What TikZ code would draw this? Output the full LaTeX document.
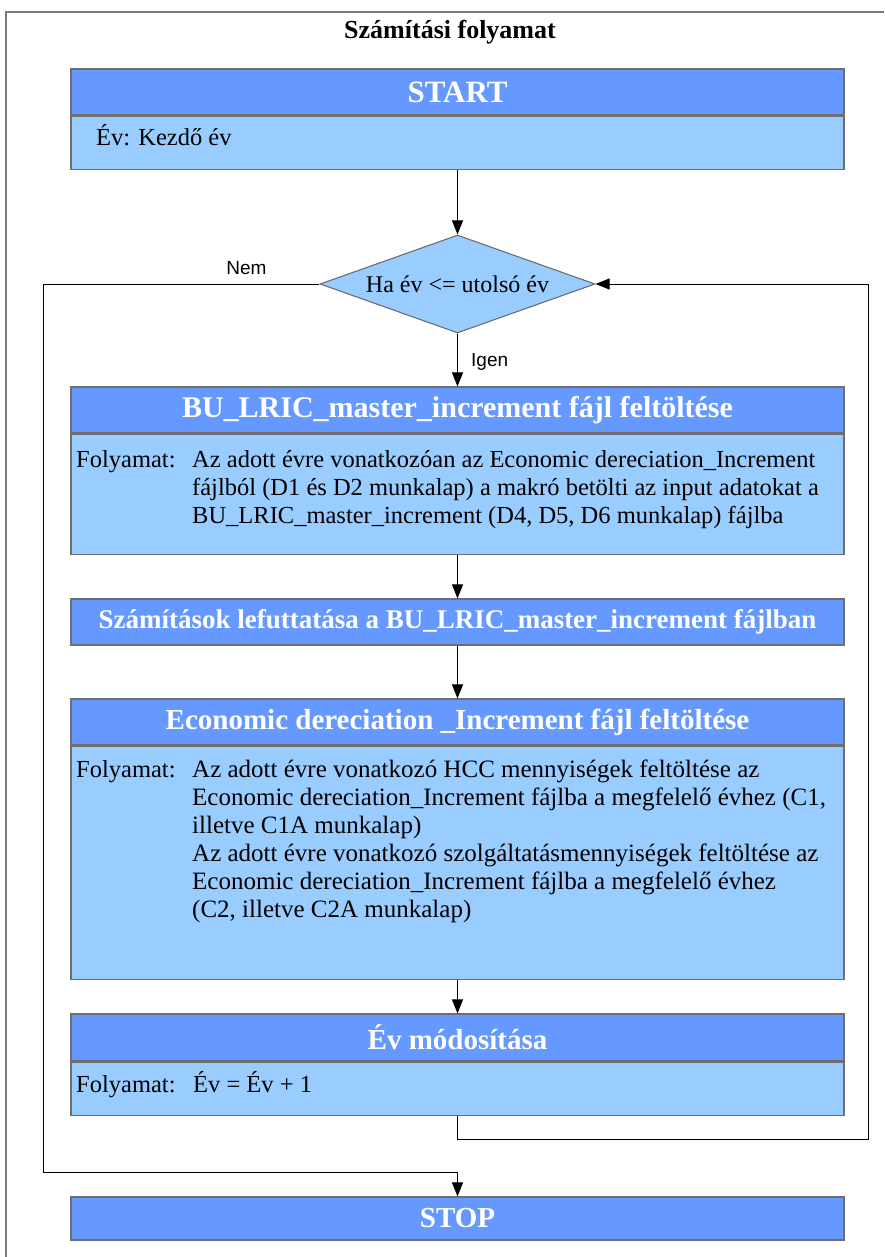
\documentclass[tikz,border=0pt]{standalone}
\usepackage{fontspec}
\setmainfont{Liberation Serif}
\newfontfamily\labelfont{Liberation Sans}
\usetikzlibrary{arrows.meta,shapes.geometric,calc}

\definecolor{hdrblue}{HTML}{6699FF}
\definecolor{bdyblue}{HTML}{99CCFF}
\definecolor{boxline}{HTML}{6E6E6E}
\definecolor{framegray}{HTML}{7A7A7A}

\begin{document}
\begin{tikzpicture}[x=1pt,y=-1pt,
  hdr/.style={draw=boxline, line width=1.1pt, fill=hdrblue, minimum width=773pt, inner sep=0pt, text=white, font=\fontsize{29}{33}\selectfont\bfseries},
  bdy/.style={draw=boxline, line width=1.1pt, fill=bdyblue, minimum width=773pt, inner sep=0pt},
  txt/.style={inner sep=0pt, font=\fontsize{24.5}{28}\selectfont, anchor=base west},
  lbl/.style={inner sep=0pt, font=\labelfont\fontsize{19}{22}\selectfont},
  conn/.style={line width=1pt, black},
  arr/.style={conn, -{Triangle[length=14pt,width=11pt]}},
  dia/.style={diamond, draw=boxline, line width=1.1pt, fill=bdyblue, aspect=2.8, inner sep=0pt, minimum width=275pt, minimum height=98pt, font=\fontsize{24}{28}\selectfont}
]
\useasboundingbox (0,0) rectangle (884,1257);

% frame
\draw[framegray, line width=2.5pt] (6,1257) -- (6,12) -- (884,12);

% title
\node[inner sep=0pt, font=\fontsize{26}{30}\selectfont\bfseries] (title) at (450,32) {Számítási folyamat};

% START
\node[hdr, minimum height=46pt, font=\fontsize{31}{35}\selectfont\bfseries] (startH) at (457.5,92) {START};
\node[bdy, minimum height=53pt, anchor=north] (startB) at (startH.south) {};
\node[txt] (startT) at (96,146) {Év: Kezdő év};

% decision
\node[dia] (cond) at (457.5,284) {Ha év <= utolsó év};
\node[lbl] (nem) at (246.5,268) {Nem};
\node[lbl, anchor=west] (igen) at (471,362) {Igen};

% BU box
\node[hdr, minimum height=46pt, font=\fontsize{30}{34}\selectfont\bfseries] (buH) at (457.5,410) {BU\_LRIC\_master\_increment fájl feltöltése};
\node[bdy, minimum height=120pt, anchor=north] (buB) at (buH.south) {};
\node[txt] (buL) at (76,467) {Folyamat:};
\node[txt] (buT1) at (192,467) {Az adott évre vonatkozóan az Economic dereciation\_Increment};
\node[txt] (buT2) at (192,495) {fájlból (D1 és D2 munkalap) a makró betölti az input adatokat a};
\node[txt] (buT3) at (192,523) {BU\_LRIC\_master\_increment (D4, D5, D6 munkalap) fájlba};

% Számítások
\node[hdr, minimum height=46pt, font=\fontsize{27}{31}\selectfont\bfseries] (szH) at (457.5,622) {Számítások lefuttatása a BU\_LRIC\_master\_increment fájlban};

% Economic box
\node[hdr, minimum height=46pt] (ecH) at (457.5,722) {Economic dereciation \_Increment fájl feltöltése};
\node[bdy, minimum height=233pt, anchor=north] (ecB) at (ecH.south) {};
\node[txt] (ecL) at (76,777) {Folyamat:};
\node[txt, font=\fontsize{25}{28}\selectfont] (ecT1) at (192,777) {Az adott évre vonatkozó HCC mennyiségek feltöltése az};
\node[txt, font=\fontsize{25}{28}\selectfont] (ecT2) at (192,805) {Economic dereciation\_Increment fájlba a megfelelő évhez (C1,};
\node[txt, font=\fontsize{25}{28}\selectfont] (ecT3) at (192,833) {illetve C1A munkalap)};
\node[txt, font=\fontsize{25}{28}\selectfont] (ecT4) at (192,861) {Az adott évre vonatkozó szolgáltatásmennyiségek feltöltése az};
\node[txt, font=\fontsize{25}{28}\selectfont] (ecT5) at (192,889) {Economic dereciation\_Increment fájlba a megfelelő évhez};
\node[txt, font=\fontsize{25}{28}\selectfont] (ecT6) at (192,917) {(C2, illetve C2A munkalap)};

% Év módosítása
\node[hdr, minimum height=47pt] (evH) at (457.5,1037.5) {Év módosítása};
\node[bdy, minimum height=53pt, anchor=north] (evB) at (evH.south) {};
\node[txt] (evL) at (76,1092) {Folyamat:};
\node[txt] (evT) at (193,1092) {Év = Év + 1};

% STOP
\node[hdr, minimum height=43pt] (stop) at (457.5,1218.5) {STOP};

% connectors
\coordinate (loopR) at (868,1139);
\coordinate (loopL) at (43,1172);
\draw[arr] (startB.south) -- (cond.north);
\draw[arr] (cond.south) -- (buH.north);
\draw[arr] (buB.south) -- (szH.north);
\draw[arr] (szH.south) -- (ecH.north);
\draw[arr] (ecB.south) -- (evH.north);
\draw[arr] (evB.south) |- (loopR) |- (cond.east);
\draw[arr] (cond.west) -| (loopL) -| (stop.north);
\end{tikzpicture}
\end{document}
